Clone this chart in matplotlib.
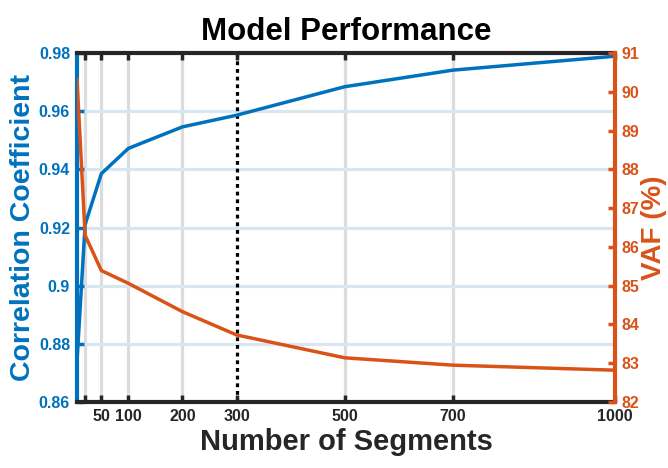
import matplotlib
matplotlib.use("Agg")
import matplotlib.pyplot as plt

plt.rcParams['font.family'] = ['Liberation Sans', 'DejaVu Sans']

segments = [5, 20, 50, 100, 200, 300, 500, 700, 1000]
corr = [0.8740, 0.9210, 0.9385, 0.9472, 0.9546, 0.9586, 0.9684, 0.9741, 0.9789]
vaf = [90.32, 86.30, 85.39, 85.06, 84.33, 83.73, 83.14, 82.95, 82.82]

xticks = [20, 50, 100, 200, 300, 500, 700, 1000]
xticklabels = ['', '50', '100', '200', '300', '500', '700', '1000']
left_ticks = [0.86, 0.88, 0.90, 0.92, 0.94, 0.96, 0.98]
left_labels = ['0.86', '0.88', '0.9', '0.92', '0.94', '0.96', '0.98']
right_ticks = list(range(82, 92))
grid_x = [20, 50, 100, 200, 500, 700]
highlight_x = 300

BLUE = '#0072BD'
ORANGE = '#D95319'
DARK = '#262626'

fig = plt.figure(figsize=(6.68, 4.68), dpi=100)
ax = fig.add_axes([77/668, 1-402/468, (615-77)/668, (402-53)/468])

ax.set_xlim(segments[0], 1000)
ax.set_ylim(0.86, 0.98)

for xv in grid_x:
    ax.axvline(xv, color='#DCDCDC', lw=2.3, zorder=0)
for yv in left_ticks[1:-1]:
    ax.axhline(yv, color='#D8E6F2', lw=2.3, zorder=0)
ax.axvline(highlight_x, color='black', lw=2.3, ls=(0, (1.2, 1.2)), zorder=1)

ax.plot(segments, corr, color=BLUE, lw=2.5, zorder=3, clip_on=False)

ax.set_xticks(xticks)
ax.set_xticklabels(xticklabels)
ax.set_yticks(left_ticks)
ax.set_yticklabels(left_labels)

ax.tick_params(axis='x', direction='in', length=5, width=2.5, color=DARK,
               top=True, labelsize=11.5, labelcolor=DARK, pad=5)
ax.tick_params(axis='y', direction='in', length=5, width=2.5, color=BLUE,
               labelsize=11.5, labelcolor=BLUE, pad=5)
for lab in ax.get_xticklabels() + ax.get_yticklabels():
    lab.set_fontweight('bold')

ax.spines['left'].set_color(BLUE)
ax.spines['left'].set_linewidth(3)
ax.spines['top'].set_color(DARK)
ax.spines['top'].set_linewidth(3)
ax.spines['bottom'].set_color(DARK)
ax.spines['bottom'].set_linewidth(3)
ax.spines['right'].set_visible(False)

ax2 = ax.twinx()
ax2.set_ylim(82, 91)
ax2.plot(segments, vaf, color=ORANGE, lw=2.5, zorder=3)
ax2.set_yticks(right_ticks)
ax2.tick_params(axis='y', direction='in', length=5, width=2.5, color=ORANGE,
                labelsize=11.5, labelcolor=ORANGE, pad=5)
for lab in ax2.get_yticklabels():
    lab.set_fontweight('bold')
for s in ['left', 'top', 'bottom']:
    ax2.spines[s].set_visible(False)
ax2.spines['right'].set_color(ORANGE)
ax2.spines['right'].set_linewidth(3)

ax.set_ylabel('Correlation Coefficient', color=BLUE, fontsize=20.5, fontweight='bold', labelpad=2)
ax2.set_ylabel('VAF (%)', color=ORANGE, fontsize=20, fontweight='bold', labelpad=1)
ax.set_xlabel('Number of Segments', color=DARK, fontsize=21, fontweight='bold', labelpad=3)
ax.set_title('Model Performance', color='black', fontsize=22.5, fontweight='bold', pad=9)

fig.savefig('out.png', dpi=100)
